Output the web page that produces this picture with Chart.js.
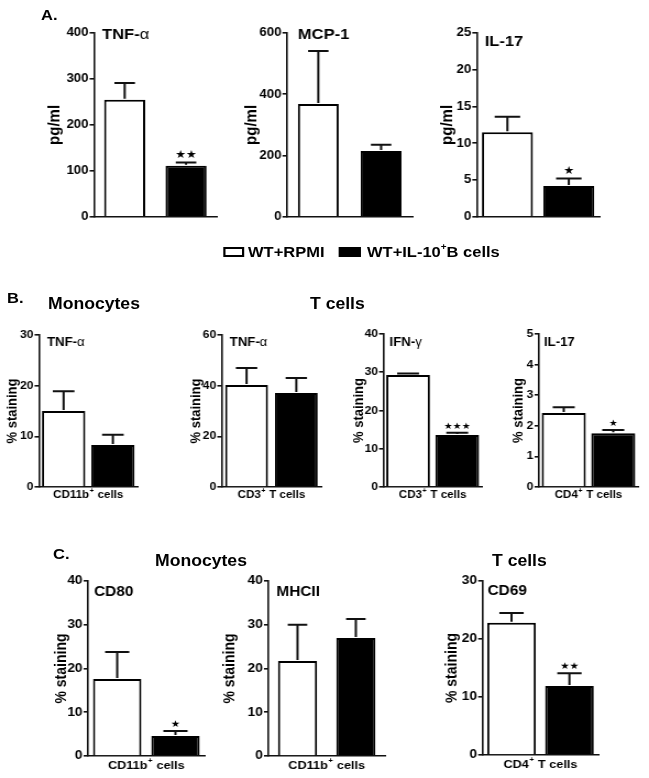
<!DOCTYPE html>
<html>
<head>
<meta charset="utf-8">
<script src="https://cdn.jsdelivr.net/npm/chart.js@4.4.1/dist/chart.umd.min.js"></script>
<style>
  html, body { margin: 0; padding: 0; background: #fff; overflow: hidden; }
  #page { position: absolute; left: 0; top: 0; width: 590px; height: 778px; transform: scaleX(1.1); transform-origin: 0 0; }
  #page canvas { position: absolute; }
  .txt { position: absolute; font-family: 'Liberation Sans', Arial, sans-serif; font-weight: bold; line-height: 1; white-space: nowrap; color: #000; }
  .txt sup { font-size: 60%; position: relative; top: -0.15em; vertical-align: top; }
  .box { position: absolute; box-sizing: border-box; border: 2px solid #000; }
</style>
</head>
<body>
<div id="page"></div>
<script>
// data
const groups = ['WT+RPMI', 'WT+IL-10⁺B cells'];
const panelNames = ['TNF-α', 'MCP-1', 'IL-17', 'TNF-α', 'TNF-α', 'IFN-γ', 'IL-17', 'CD80', 'MHCII', 'CD69'];
const yTitles = ['pg/ml', 'pg/ml', 'pg/ml', '% staining', '% staining', '% staining', '% staining', '% staining', '% staining', '% staining'];
const cellLabels = ['', '', '', 'CD11b⁺ cells', 'CD3⁺ T cells', 'CD3⁺ T cells', 'CD4⁺ T cells', 'CD11b⁺ cells', 'CD11b⁺ cells', 'CD4⁺ T cells'];
const rpmiMean = [255, 368, 11.5, 15.0, 40.3, 29.3, 2.42, 17.6, 21.7, 22.8];
const rpmiSem = [36, 173, 2.1, 3.9, 6.7, 0.4, 0.19, 6.2, 8.3, 1.7];
const bcellMean = [111, 215, 4.2, 8.3, 37.1, 13.6, 1.76, 4.6, 27.0, 11.9];
const bcellSem = [7, 20, 1.0, 2.0, 5.9, 0.6, 0.1, 1.1, 4.3, 2.2];
const signif = ['★★', '', '★', '', '', '★★★', '★', '★', '', '★★'];
const yMax = [400, 600, 25, 30, 60, 40, 5, 40, 40, 30];
const yStep = [100, 200, 5, 10, 20, 10, 1, 10, 10, 10];

// layout (reference pixels): axis x, top, bottom, right, y-title centre x, name dx, name dy, bar %, row
const frames = [
  [94, 33, 217, 217, 55, 8, 2, 0.67, 'A'],
  [287, 33, 217, 413, 252, 11, 2, 0.65, 'A'],
  [477, 33, 217, 600, 448, 8, 9, 0.83, 'A'],
  [39, 335, 487, 137, 13, 8, 8, 0.88, 'B'],
  [222, 335, 487, 322, 197, 8, 8, 0.86, 'B'],
  [383, 334, 487, 481, 359, 6, 9, 0.89, 'B'],
  [539, 334, 487, 638, 519, 5, 9, 0.89, 'B'],
  [88, 581, 756, 205, 62, 6, 11, 0.83, 'C'],
  [268, 581, 756, 385, 230, 8, 11, 0.67, 'C'],
  [483, 581, 755, 599, 453, 5, 10, 0.84, 'C']
];
const rowStyle = {
  A: { tick: 12, ytitle: 15, name: 15, xlab: 11, xlabDy: 9, star: 11, starGap: 7, padB: 8 },
  B: { tick: 11, ytitle: 13, name: 12, xlab: 10.5, xlabDy: 8, star: 9, starGap: 6, padB: 20 },
  C: { tick: 12.5, ytitle: 14, name: 14, xlab: 11.5, xlabDy: 9.5, star: 9.5, starGap: 6.5, padB: 20 }
};

const SX = 1.1;
const FAM = "'Liberation Sans', Arial, sans-serif";
const page = document.getElementById('page');
Chart.defaults.color = '#000';

function text(html, x, baseline, fs) {
  const d = document.createElement('div');
  d.className = 'txt';
  d.innerHTML = html;
  d.style.fontSize = fs + 'px';
  d.style.left = (x / SX) + 'px';
  d.style.top = (baseline - 0.846 * fs) + 'px';
  page.appendChild(d);
}
function box(x, y, w, h, fill) {
  const d = document.createElement('div');
  d.className = 'box';
  d.style.left = (x / SX) + 'px';
  d.style.top = y + 'px';
  d.style.width = (w / SX) + 'px';
  d.style.height = h + 'px';
  d.style.background = fill;
  page.appendChild(d);
}

text('A.', 41, 20, 15);
text('B.', 7, 303, 15);
text('C.', 53, 559, 15);
text('Monocytes', 48, 310, 16);
text('T cells', 310, 310, 16);
text('Monocytes', 155, 567, 16);
text('T cells', 492, 567, 16);
box(223, 247, 21, 10, '#fff');
text(groups[0], 248, 257, 15);
box(339, 247, 22, 10, '#000');
text(groups[1].replace('⁺', '<sup>+</sup>'), 367, 257, 15);

function drawName(ctx, name, x, cy, fs) {
  const m = name.match(/^(.*?)([α-ω]?)$/);
  ctx.font = `bold ${fs}px ${FAM}`;
  ctx.fillText(m[1], x, cy);
  if (m[2]) {
    const w = ctx.measureText(m[1]).width;
    ctx.font = `${fs}px ${FAM}`;
    ctx.fillText(m[2], x + w, cy);
  }
}
function drawCellLabel(ctx, label, cx, cy, fs) {
  const parts = label.split('⁺');
  const big = `bold ${fs}px ${FAM}`;
  const small = `bold ${fs * 0.62}px ${FAM}`;
  ctx.font = big;
  const wa = ctx.measureText(parts[0]).width;
  const wb = parts[1] ? ctx.measureText(parts[1]).width : 0;
  ctx.font = small;
  const ws = parts[1] !== undefined ? ctx.measureText('+').width + 1 : 0;
  let x = cx - (wa + ws + wb) / 2;
  ctx.textAlign = 'left';
  ctx.font = big;
  ctx.fillText(parts[0], x, cy);
  x += wa;
  if (parts[1] !== undefined) {
    ctx.font = small;
    ctx.fillText('+', x + 0.5, cy - fs * 0.38);
    x += ws;
    ctx.font = big;
    ctx.fillText(parts[1], x, cy);
  }
}

const errorBars = {
  id: 'errorBars',
  afterDatasetsDraw(chart, args, o) {
    const { ctx, chartArea } = chart;
    const ys = chart.scales.y;
    const meta = chart.getDatasetMeta(0);
    const vals = chart.data.datasets[0].data;
    ctx.save();
    ctx.strokeStyle = '#111';
    ctx.lineWidth = 2;
    meta.data.forEach((bar, i) => {
      const base = ys.getPixelForValue(vals[i]);
      const top = ys.getPixelForValue(vals[i] + o.err[i]);
      const half = bar.width * 0.25;
      ctx.beginPath();
      ctx.moveTo(bar.x, base - 1);
      ctx.lineTo(bar.x, top);
      ctx.moveTo(bar.x - half, top);
      ctx.lineTo(bar.x + half, top);
      ctx.stroke();
    });
    ctx.fillStyle = '#000';
    ctx.textBaseline = 'middle';
    if (o.star) {
      const bar = meta.data[1];
      const top = ys.getPixelForValue(vals[1] + o.err[1]);
      ctx.textAlign = 'center';
      ctx.font = `${o.st.star}px 'DejaVu Sans', sans-serif`;
      ctx.fillText(o.star, bar.x, top - o.st.starGap);
    }
    ctx.textAlign = 'left';
    drawName(ctx, o.name, chartArea.left + o.nameDx, chartArea.top + o.nameDy, o.st.name);
    if (o.cells) {
      drawCellLabel(ctx, o.cells, (chartArea.left + chartArea.right) / 2, chartArea.bottom + o.st.xlabDy, o.st.xlab);
    }
    ctx.restore();
  }
};

frames.forEach((f, i) => {
  const st = rowStyle[f[8]];
  const lh = st.ytitle * 1.2;
  const ax = f[0] / SX;
  const right = f[3] / SX;
  const left = f[4] / SX - lh / 2;
  const Wy = ax - left;
  const padTop = 12, padR = 6;
  const cv = document.createElement('canvas');
  const w = Math.round(Wy + (right - ax) + padR);
  const h = Math.round(padTop + (f[2] - f[1]) + st.padB);
  cv.width = w;
  cv.height = h;
  cv.style.width = w + 'px';
  cv.style.height = h + 'px';
  cv.style.left = left + 'px';
  cv.style.top = (f[1] - padTop) + 'px';
  page.appendChild(cv);

  new Chart(cv, {
    type: 'bar',
    data: {
      labels: groups,
      datasets: [{
        data: [rpmiMean[i], bcellMean[i]],
        backgroundColor: ['#fff', '#000'],
        borderColor: '#000',
        borderWidth: 2,
        barPercentage: f[7],
        categoryPercentage: 1
      }]
    },
    options: {
      responsive: false,
      animation: false,
      devicePixelRatio: 1,
      layout: { padding: { top: padTop, right: padR, bottom: st.padB, left: 0 } },
      scales: {
        x: {
          offset: true,
          grid: { display: false },
          border: { display: true, color: '#111', width: 1.6 },
          ticks: { display: false },
          afterFit: s => { s.height = 0; }
        },
        y: {
          min: 0,
          max: yMax[i],
          ticks: { stepSize: yStep[i], padding: 1, color: '#000', font: { family: FAM, size: st.tick, weight: 'bold' } },
          grid: { drawOnChartArea: false, drawTicks: true, tickLength: 4, color: '#111', lineWidth: 1.6 },
          border: { display: true, color: '#111', width: 1.6 },
          title: { display: true, text: yTitles[i], padding: 0, color: '#000', font: { family: FAM, size: st.ytitle, weight: 'bold' } },
          afterFit: s => { s.width = Wy; }
        }
      },
      plugins: {
        legend: { display: false },
        tooltip: { enabled: false },
        errorBars: {
          err: [rpmiSem[i], bcellSem[i]],
          star: signif[i],
          name: panelNames[i],
          cells: cellLabels[i],
          nameDx: f[5] / SX,
          nameDy: f[6],
          st: st
        }
      }
    },
    plugins: [errorBars]
  });
});
</script>
</body>
</html>
